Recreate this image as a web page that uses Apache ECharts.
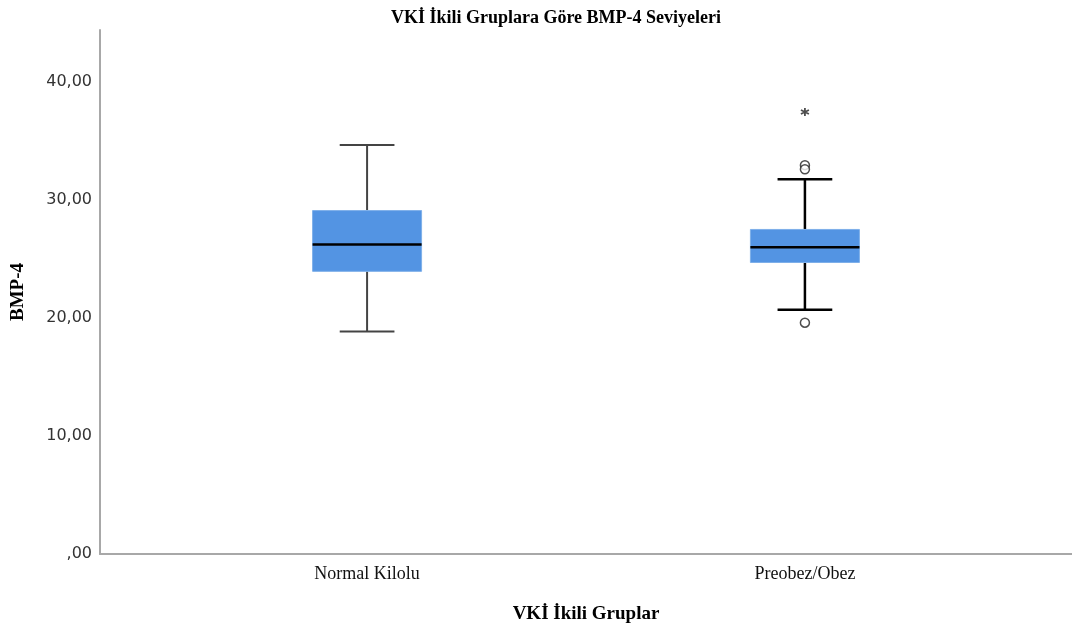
<!DOCTYPE html>
<html>
<head>
<meta charset="utf-8">
<script src="https://cdn.jsdelivr.net/npm/echarts@6/dist/echarts.min.js"></script>
<style>
html,body{margin:0;padding:0;background:#fff;}
#chart{width:1072px;height:629px;}
</style>
</head>
<body>
<div id="chart"></div>
<script>
// Groups and their box-plot summaries: [min whisker, Q1, median, Q3, max whisker]
const categories = ['Normal Kilolu', 'Preobez/Obez'];
const boxNormal = [18.85, 23.95, 26.22, 29.1, 34.65];
const boxPreobez = [20.7, 24.7, 26.0, 27.5, 31.75];
// Outliers: [group index, value]
const outliersCircle = [[1, 32.95], [1, 32.6], [1, 19.6]];
const outliersExtreme = [[1, 37.45]];
const yTicks = [0, 10, 20, 30, 40];

const boxes = [boxNormal, boxPreobez];
const boxData = boxes.map((b, i) => [i + 1].concat(b));

const chart = echarts.init(document.getElementById('chart'));

const serif = '"Liberation Serif", "Times New Roman", serif';
const boxWidth = 0.249;
const capWidth = 0.125;
const whiskerStyle = [
  { stroke: '#444', lineWidth: 2 },
  { stroke: '#000', lineWidth: 2.5 }
];

function renderBox(params, api) {
  const x = api.value(0);
  const idx = params.dataIndex;
  const lo = api.coord([x, api.value(1)]);
  const q1 = api.coord([x, api.value(2)]);
  const med = api.coord([x, api.value(3)]);
  const q3 = api.coord([x, api.value(4)]);
  const hi = api.coord([x, api.value(5)]);
  const left = api.coord([x - boxWidth / 2, 0])[0];
  const right = api.coord([x + boxWidth / 2, 0])[0];
  const capL = api.coord([x - capWidth / 2, 0])[0];
  const capR = api.coord([x + capWidth / 2, 0])[0];
  const ws = whiskerStyle[idx];
  return {
    type: 'group',
    children: [
      { type: 'line', shape: { x1: lo[0], y1: lo[1], x2: q1[0], y2: q1[1] }, style: ws },
      { type: 'line', shape: { x1: q3[0], y1: q3[1], x2: hi[0], y2: hi[1] }, style: ws },
      { type: 'line', shape: { x1: capL, y1: lo[1], x2: capR, y2: lo[1] }, style: ws },
      { type: 'line', shape: { x1: capL, y1: hi[1], x2: capR, y2: hi[1] }, style: ws },
      { type: 'rect', shape: { x: left, y: q3[1], width: right - left, height: q1[1] - q3[1] },
        style: { fill: '#5394e3', stroke: '#7fb0ea', lineWidth: 1 } },
      { type: 'line', shape: { x1: left, y1: med[1], x2: right, y2: med[1] },
        style: { stroke: '#000', lineWidth: 2.5 } }
    ]
  };
}

const starPath = 'path://M5,0 L5,10 M0.7,2.5 L9.3,7.5 M0.7,7.5 L9.3,2.5';

chart.setOption({
  animation: false,
  title: {
    text: 'VKİ İkili Gruplara Göre BMP-4 Seviyeleri',
    left: 551,
    textAlign: 'center',
    top: 4,
    textStyle: { fontFamily: serif, fontSize: 18, fontWeight: 'bold', color: '#000' }
  },
  grid: { left: 100, right: 0, top: 30, bottom: 75, outerBoundsMode: 'none', containLabel: false },
  xAxis: {
    type: 'value',
    min: 0.39,
    max: 2.61,
    name: 'VKİ İkili Gruplar',
    nameLocation: 'middle',
    nameGap: 51,
    nameTextStyle: { fontFamily: serif, fontSize: 19, fontWeight: 'bold', color: '#000' },
    splitLine: { show: false },
    axisTick: { show: false },
    axisLine: { lineStyle: { color: '#a8a8a8', width: 2 } },
    axisLabel: {
      customValues: [1, 2],
      formatter: v => categories[Math.round(v) - 1] || '',
      fontFamily: serif,
      fontSize: 18,
      color: '#111',
      margin: 11
    }
  },
  yAxis: {
    type: 'value',
    min: 0,
    max: 44.4,
    name: 'BMP-4',
    nameLocation: 'middle',
    nameGap: 72,
    nameRotate: 90,
    nameTextStyle: { fontFamily: serif, fontSize: 19, fontWeight: 'bold', color: '#000' },
    splitLine: { show: false },
    axisTick: { show: false },
    axisLine: { show: true, lineStyle: { color: '#a8a8a8', width: 2 } },
    axisLabel: {
      customValues: yTicks,
      formatter: v => v === 0 ? ',00' : v.toFixed(2).replace('.', ','),
      fontFamily: '"DejaVu Sans", sans-serif',
      fontSize: 16,
      color: '#333',
      margin: 8
    }
  },
  series: [
    {
      type: 'custom',
      renderItem: renderBox,
      encode: { x: 0, y: [1, 2, 3, 4, 5] },
      data: boxData,
      z: 2
    },
    {
      type: 'scatter',
      data: outliersCircle.map(d => [d[0] + 1, d[1]]),
      symbol: 'circle',
      symbolSize: 9,
      itemStyle: { color: '#fff', borderColor: '#222', borderWidth: 1.5 },
      z: 3
    },
    {
      type: 'scatter',
      data: outliersExtreme.map(d => [d[0] + 1, d[1]]),
      symbol: starPath,
      symbolSize: 8,
      itemStyle: { color: 'none', borderColor: '#222', borderWidth: 1.8 },
      z: 3
    }
  ]
});
</script>
</body>
</html>
